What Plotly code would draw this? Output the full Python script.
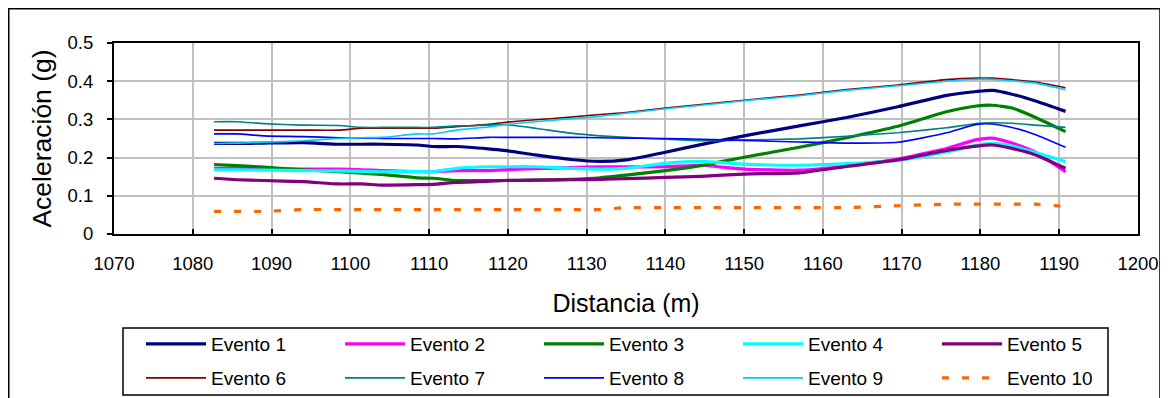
import plotly.graph_objects as go

# ---- data ----
distancia = [1082.7, 1085.6, 1089, 1094, 1098.5, 1101.5, 1104, 1108.5, 1110.5, 1113.5,
             1117.5, 1119.5, 1123.5, 1128, 1131.7, 1135, 1140, 1144.5, 1150, 1157,
             1163, 1169.5, 1175.7, 1179.5, 1181.5, 1184, 1187, 1190.8]

evento_1 = [0.237, 0.237, 0.238, 0.239, 0.235, 0.235, 0.235, 0.233, 0.229, 0.229,
            0.223, 0.219, 0.207, 0.195, 0.190, 0.194, 0.214, 0.234, 0.257, 0.283,
            0.305, 0.333, 0.363, 0.373, 0.376, 0.366, 0.348, 0.321]
evento_2 = [0.172, 0.172, 0.171, 0.170, 0.170, 0.168, 0.166, 0.163, 0.163, 0.166,
            0.166, 0.168, 0.171, 0.174, 0.176, 0.176, 0.176, 0.180, 0.170, 0.167,
            0.178, 0.196, 0.224, 0.247, 0.251, 0.238, 0.214, 0.163]
evento_3 = [0.182, 0.179, 0.175, 0.168, 0.163, 0.159, 0.156, 0.147, 0.146, 0.140,
            0.140, 0.140, 0.141, 0.143, 0.147, 0.154, 0.166, 0.179, 0.201, 0.227,
            0.252, 0.282, 0.320, 0.335, 0.337, 0.330, 0.305, 0.268]
evento_4 = [0.168, 0.168, 0.167, 0.166, 0.165, 0.164, 0.163, 0.164, 0.163, 0.172,
            0.176, 0.176, 0.176, 0.172, 0.170, 0.172, 0.185, 0.190, 0.183, 0.180,
            0.184, 0.193, 0.215, 0.232, 0.237, 0.230, 0.213, 0.190]
evento_5 = [0.146, 0.142, 0.140, 0.137, 0.131, 0.131, 0.128, 0.129, 0.130, 0.135,
            0.138, 0.140, 0.141, 0.142, 0.143, 0.145, 0.148, 0.151, 0.157, 0.160,
            0.177, 0.194, 0.219, 0.230, 0.233, 0.224, 0.207, 0.172]
evento_6 = [0.272, 0.272, 0.272, 0.272, 0.272, 0.277, 0.277, 0.277, 0.277, 0.281,
            0.287, 0.292, 0.299, 0.306, 0.313, 0.318, 0.330, 0.339, 0.350, 0.364,
            0.378, 0.390, 0.404, 0.408, 0.408, 0.404, 0.398, 0.383]
evento_7 = [0.294, 0.294, 0.289, 0.285, 0.284, 0.279, 0.279, 0.279, 0.279, 0.283,
            0.285, 0.287, 0.277, 0.264, 0.257, 0.253, 0.248, 0.244, 0.246, 0.249,
            0.256, 0.265, 0.278, 0.289, 0.291, 0.290, 0.285, 0.279]
evento_8 = [0.262, 0.262, 0.257, 0.255, 0.252, 0.251, 0.250, 0.250, 0.250, 0.249,
            0.253, 0.253, 0.253, 0.253, 0.252, 0.251, 0.250, 0.248, 0.245, 0.241,
            0.238, 0.240, 0.265, 0.287, 0.288, 0.279, 0.260, 0.227]
evento_9 = [0.237, 0.238, 0.240, 0.244, 0.250, 0.252, 0.253, 0.262, 0.262, 0.272,
            0.280, 0.286, 0.294, 0.302, 0.308, 0.316, 0.328, 0.337, 0.349, 0.362,
            0.376, 0.388, 0.400, 0.405, 0.405, 0.401, 0.395, 0.378]
evento_10 = [0.059, 0.059, 0.059, 0.064, 0.064, 0.064, 0.064, 0.064, 0.064, 0.064,
             0.064, 0.064, 0.064, 0.064, 0.064, 0.069, 0.069, 0.069, 0.069, 0.069,
             0.069, 0.074, 0.078, 0.078, 0.078, 0.078, 0.078, 0.072]

nombres = ["Evento 1", "Evento 2", "Evento 3", "Evento 4", "Evento 5",
           "Evento 6", "Evento 7", "Evento 8", "Evento 9", "Evento 10"]
series = [evento_1, evento_2, evento_3, evento_4, evento_5,
          evento_6, evento_7, evento_8, evento_9, evento_10]

colores = ["#000080", "#FF00FF", "#008000", "#00FFFF", "#800080",
           "#800000", "#008080", "#0000FF", "#00CCFF", "#FF6600"]
anchos = [3.2, 3.2, 3.2, 3.2, 3.2, 1.6, 1.6, 1.6, 1.6, 3.2]
trazos = ["solid"] * 9 + ["7px,13px"]

FONT = "Liberation Sans, Arial, sans-serif"
# the page body has an 8px default margin, so the figure is sized/placed to compensate
W, H = 1160, 390
ML, MR, MT, MB = 106, 30, 35, 164
PW, PH = W - ML - MR, H - MT - MB


def px_x(x):  # figure pixel -> paper fraction
    return (x - ML) / PW


def px_y(y):
    return (H - MB - y) / PH


fig = go.Figure()
for i, (n, s) in enumerate(zip(nombres, series)):
    fig.add_trace(go.Scatter(
        x=distancia, y=s, name=n, mode="lines",
        line=dict(color=colores[i], width=anchos[i], dash=trazos[i],
                  shape="spline", smoothing=0.5),
        legend="legend" if i < 5 else "legend2",
        hoverinfo="x+y+name",
    ))

legend_common = dict(
    orientation="h", xref="container", yref="container",
    xanchor="left", yanchor="middle",
    entrywidth=124, entrywidthmode="pixels", itemwidth=60,
    font=dict(family=FONT, size=19, color="#000"),
    bgcolor="rgba(0,0,0,0)", borderwidth=0,
    tracegroupgap=0, traceorder="normal",
)

fig.update_layout(
    width=W, height=H,
    margin=dict(l=ML, r=MR, t=MT, b=MB),
    paper_bgcolor="white", plot_bgcolor="white",
    font=dict(family=FONT, size=18.5, color="#000"),
    showlegend=True,
    legend=dict(legend_common, x=133 / W, y=1 - 336 / H),
    legend2=dict(legend_common, x=133 / W, y=1 - 370 / H),
    xaxis=dict(
        range=[1070, 1200], dtick=10, tick0=1070,
        showgrid=True, gridcolor="#C0C0C0", gridwidth=1.6,
        showline=True, linecolor="#000", linewidth=2, mirror=True,
        ticks="inside", ticklen=5, tickcolor="#000", tickwidth=1.5,
        ticklabelstandoff=12,
        tickfont=dict(family=FONT, size=18.5),
        title=dict(text="Distancia (m)", font=dict(family=FONT, size=25), standoff=21),
        zeroline=False, automargin=False,
    ),
    yaxis=dict(
        range=[0, 0.5], dtick=0.1, tick0=0,
        showgrid=True, gridcolor="#C0C0C0", gridwidth=1.6,
        showline=True, linecolor="#000", linewidth=2, mirror=True,
        ticks="outside", ticklen=5, tickcolor="#000", tickwidth=1.5,
        ticklabelstandoff=10,
        tickfont=dict(family=FONT, size=18.5),
        title=dict(text="Aceleración (g)", font=dict(family=FONT, size=26.5), standoff=8),
        zeroline=False, automargin=False,
    ),
    shapes=[
        # outer chart frame
        dict(type="rect", xref="paper", yref="paper",
             x0=px_x(0.75), x1=px_x(1152), y0=px_y(420), y1=px_y(0.75),
             line=dict(color="#000", width=1.5), fillcolor="rgba(0,0,0,0)", layer="below"),
        # legend box
        dict(type="rect", xref="paper", yref="paper",
             x0=px_x(115), x1=px_x(1100), y0=px_y(387), y1=px_y(320),
             line=dict(color="#000", width=1.5), fillcolor="white", layer="below"),
    ],
)

fig.write_html("out.html")
